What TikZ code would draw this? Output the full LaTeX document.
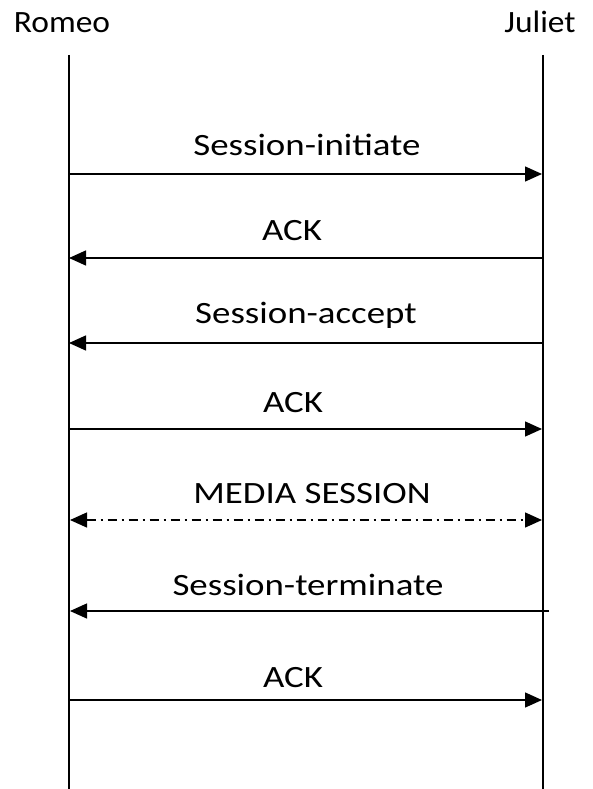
\documentclass[tikz,border=0pt]{standalone}
\usepackage{fontspec}
\setmainfont{Carlito}
\usetikzlibrary{arrows.meta}
\newcommand{\wmsg}[1]{\scalebox{1.19}[1]{#1}}
\newcommand{\whead}[1]{\scalebox{1.08}[1]{#1}}
\begin{document}
\begin{tikzpicture}[x=1pt,y=-1pt,
  lbl/.style={font=\fontsize{31}{34}\selectfont, inner sep=0pt, anchor=base},
  life/.style={line width=1.4pt},
  msg/.style={line width=1.4pt, -{Triangle[length=17pt,width=15pt]}},
  msgboth/.style={line width=1.4pt, {Triangle[length=17pt,width=15pt]}-{Triangle[length=17pt,width=15pt]}, dash pattern=on 9pt off 5pt on 2pt off 5pt}]
\useasboundingbox (0,0) rectangle (592,789);
\node[lbl] (romeo) at (62,33) {\whead{Romeo}};
\node[lbl] (juliet) at (540,33) {\whead{Juliet}};
\coordinate (lt) at (69,55); \coordinate (lb) at (69,789);
\coordinate (rt) at (543,55); \coordinate (rb) at (543,789);
\draw[life] (lt) -- (lb);
\draw[life] (rt) -- (rb);
% messages
\coordinate (a1) at (69,174); \coordinate (b1) at (542,174);
\coordinate (a2) at (69,258); \coordinate (b2) at (543,258);
\coordinate (a3) at (69,343); \coordinate (b3) at (543,343);
\coordinate (a4) at (69,429); \coordinate (b4) at (542,429);
\coordinate (a5) at (70,520); \coordinate (b5) at (542,520);
\coordinate (a6) at (70,611); \coordinate (b6) at (549,611);
\coordinate (a7) at (69,700); \coordinate (b7) at (542,700);
\draw[msg] (a1) -- (b1);
\draw[msg] (b2) -- (a2);
\draw[msg] (b3) -- (a3);
\draw[msg] (a4) -- (b4);
\draw[msgboth] (a5) -- (b5);
\draw[msg] (b6) -- (a6);
\draw[msg] (a7) -- (b7);
\node[lbl] (m1) at (307,155) {\wmsg{Session-initiate}};
\node[lbl] (m2) at (292,240) {\wmsg{ACK}};
\node[lbl] (m3) at (306,323) {\wmsg{Session-accept}};
\node[lbl] (m4) at (293,412) {\wmsg{ACK}};
\node[lbl] (m5) at (312,503) {\wmsg{MEDIA SESSION}};
\node[lbl] (m6) at (308,595) {\wmsg{Session-terminate}};
\node[lbl] (m7) at (293,687) {\wmsg{ACK}};
\end{tikzpicture}
\end{document}
